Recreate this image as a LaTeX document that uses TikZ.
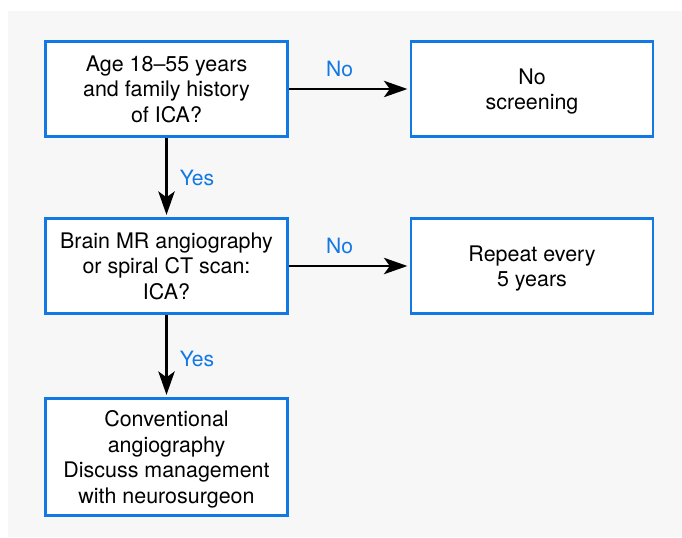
\documentclass[tikz,border=0pt]{standalone}
\usepackage{fontspec}
\setmainfont{TeX Gyre Heros}
\usetikzlibrary{arrows.meta}
\definecolor{boxblue}{RGB}{18,120,228}
\definecolor{bggray}{RGB}{247,247,247}
\tikzstyle{box}=[draw=boxblue, fill=white, line width=2.2pt, minimum width=7.26cm, minimum height=2.85cm, align=center, inner sep=0pt, text depth=0pt, font=\fontsize{18.3}{21.8}\selectfont]
\tikzstyle{tallbox}=[box, minimum height=3.51cm]
\tikzstyle{edge}=[-{Stealth[length=20pt, width=14pt, inset=5pt]}, shorten >=2pt, line width=2pt]
\tikzstyle{elabel}=[text=boxblue, font=\fontsize{18}{21}\selectfont]

\begin{document}
\begin{tikzpicture}[x=0.03cm, y=-0.03cm]
      \useasboundingbox (0,0) rectangle (682,537);
      \fill[bggray] (8,11) rectangle (682,537);
      \node(age) [box] at (166.5, 89) {Age 18--55 years\\and family history\\of ICA?};
      \node(noscreen) [box] at (532, 89) {No\\screening};
      \node(mra) [box] at (166.5, 266) {Brain MR angiography\\or spiral CT scan:\\ICA?};
      \node(repeat) [box] at (532, 266) {Repeat every\\5 years};
      \node(conv) [tallbox] at (166.5, 457) {Conventional\\angiography\\Discuss management\\with neurosurgeon};
      \draw[edge] (age) to node[elabel, pos=0.42, above=6pt] {No} (noscreen);
      \draw[edge] (mra) to node[elabel, pos=0.42, above=6pt] {No} (repeat);
      \draw[edge] (age) to node[elabel, right=7pt] {Yes} (mra);
      \draw[edge] (mra) to node[elabel, pos=0.53, right=7pt] {Yes} (conv);
    \end{tikzpicture}
\end{document}
